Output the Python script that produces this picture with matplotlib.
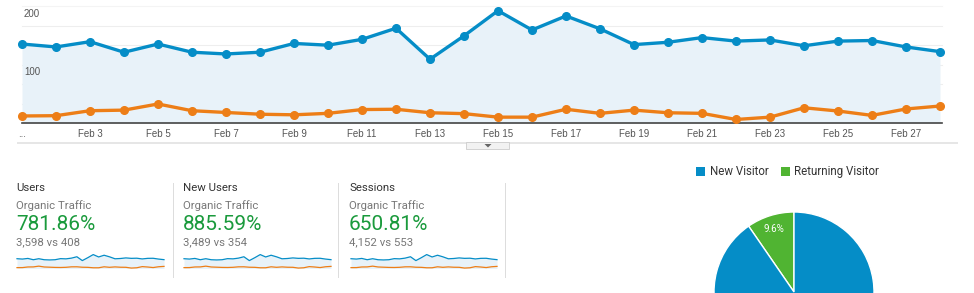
import matplotlib
matplotlib.use('Agg')
import matplotlib.pyplot as plt
from matplotlib.patches import Rectangle, Polygon

# daily values, Feb 1 - Feb 28
days = list(range(1, 29))
current_period = [135, 130, 139, 121, 135, 121, 118, 121, 136, 133,
                  143, 162, 109, 149, 192, 159, 183, 161, 134, 138,
                  146, 140, 142, 132, 140, 141, 130, 122]
previous_period = [12, 12.5, 21, 22, 32.5, 21, 18, 15, 14, 16.5,
                   23, 23.5, 17.5, 16, 10, 10, 23.5, 16.5, 22, 17.5,
                   16.5, 6, 10, 26, 20.5, 13, 24, 29]
tick_days = [1, 3, 5, 7, 9, 11, 13, 15, 17, 19, 21, 23, 25, 27]
tick_labels = ['...'] + [f'Feb {d}' for d in tick_days[1:]]

# scorecards
card_titles = ['Users', 'New Users', 'Sessions']
card_segment = 'Organic Traffic'
card_change = ['781.86%', '885.59%', '650.81%']
card_compare = ['3,598 vs 408', '3,489 vs 354', '4,152 vs 553']

# visitor type pie
visitor_labels = ['Returning Visitor', 'New Visitor']
visitor_share = [9.6, 90.4]

BLUE = '#058dc7'
ORANGE = '#ed7e17'
GREEN = '#50b432'
FILL = '#e8f2f9'

W, H = 974, 293
fig = plt.figure(figsize=(W / 100, H / 100), dpi=100)
fig.patch.set_facecolor('white')
plt.rcParams['font.family'] = ['Liberation Sans', 'DejaVu Sans']


def px_axes(x0, y0, x1, y1):
    return fig.add_axes([x0 / W, 1 - y1 / H, (x1 - x0) / W, (y1 - y0) / H])


def fig_text(x, y, s, **kw):
    fig.text(x / W, 1 - y / H, s, va='center', **kw)


# ---- main line chart ----
ax = px_axes(22, 6, 940, 123)
ax.set_xlim(days[0], days[-1])
ax.set_ylim(0, 200)
for s in ax.spines.values():
    s.set_visible(False)
ax.set_facecolor('none')
ax.set_yticks([])

x_end = days[-1] + 0.06
for v in [200 / 6 * k for k in range(1, 7)]:
    ax.plot([days[0], x_end], [v, v], color='#eeeeee' if v < 199 else '#f4f4f4',
            lw=0.8, clip_on=False, zorder=0)

ax.fill_between(days, current_period, 0, color=FILL, lw=0, zorder=1)
ax.plot(days, current_period, color=BLUE, lw=2.4, marker='o', ms=5.5,
        clip_on=False, zorder=4)
ax.plot(days, previous_period, color=ORANGE, lw=2.4, marker='o', ms=5.5,
        clip_on=False, zorder=3)
ax.plot([days[0], x_end], [0, 0], color='#444444', lw=1.2, clip_on=False, zorder=2)

ax.text(days[0] + 0.06, 186, '200', fontsize=7, color='#555555', va='center')
ax.text(days[0] + 0.06, 87, '100', fontsize=7, color='#555555', va='center')

ax.set_xticks(tick_days, tick_labels)
ax.tick_params(axis='x', length=0, pad=4.5, labelsize=7.0, labelcolor='#555555')

# separator bar and expand tab
fig.add_artist(Rectangle((17 / W, 1 - 144 / H), (958 - 17) / W, 2 / H,
                         transform=fig.transFigure, color='#e6e6e6', lw=0))
fig.add_artist(Rectangle((466 / W, 1 - 148.5 / H), 43 / W, 6.5 / H,
                         transform=fig.transFigure, facecolor='#f2f2f2',
                         edgecolor='#cccccc', lw=0.6))
fig.add_artist(Polygon([[484.5 / W, 1 - 144 / H], [491.5 / W, 1 - 144 / H],
                        [488 / W, 1 - 147.5 / H]], closed=True,
                       transform=fig.transFigure, color='#666666', lw=0))

# ---- scorecards ----
card_x = [16, 183, 349]
spark_x = [(17, 164), (184, 331), (351, 497)]
for i in range(3):
    x = card_x[i]
    fig_text(x, 188, card_titles[i], fontsize=8.2, color='#333333', family='Roboto')
    fig_text(x, 205.5, card_segment, fontsize=8.2, color='#777777', family='Roboto')
    fig_text(x, 224, card_change[i], fontsize=15, color='#1a9a3c', family='Roboto')
    fig_text(x, 242.5, card_compare[i], fontsize=8.2, color='#777777', family='Roboto')

    sx = px_axes(spark_x[i][0], 254, spark_x[i][1], 268.5)
    sx.set_xlim(days[0], days[-1])
    sx.set_ylim(0, 200)
    sx.axis('off')
    sx.fill_between(days, current_period, 0, color=FILL, lw=0)
    sx.plot(days, current_period, color=BLUE, lw=0.9, clip_on=False)
    sx.plot(days, previous_period, color=ORANGE, lw=0.9, clip_on=False)

for xv in [173, 338, 505]:
    fig.add_artist(Rectangle((xv / W, 1 - 278 / H), 1 / W, 95 / H,
                             transform=fig.transFigure, color='#dddddd', lw=0))

# ---- pie ----
fig.add_artist(Rectangle((696 / W, 1 - 176 / H), 9 / W, 9 / H,
                         transform=fig.transFigure, color=BLUE, lw=0))
fig_text(710, 171.5, visitor_labels[1], fontsize=8.3, color='#333333', family='Roboto')
fig.add_artist(Rectangle((781 / W, 1 - 176 / H), 9 / W, 9 / H,
                         transform=fig.transFigure, color=GREEN, lw=0))
fig_text(794, 171.5, visitor_labels[0], fontsize=8.3, color='#333333', family='Roboto')

px = px_axes(714, 212, 874, 372)
px.pie(visitor_share, colors=[GREEN, BLUE], startangle=90, counterclock=True,
       radius=1, wedgeprops=dict(edgecolor='white', linewidth=1))
px.set_xlim(-1, 1)
px.set_ylim(-1, 1)
px.set_aspect('equal')
px.text(-0.25, 0.79, f'{visitor_share[0]}%', fontsize=7, color='white',
        ha='center', va='center', family='Roboto')

fig.savefig('out.png', dpi=100, facecolor='white')
